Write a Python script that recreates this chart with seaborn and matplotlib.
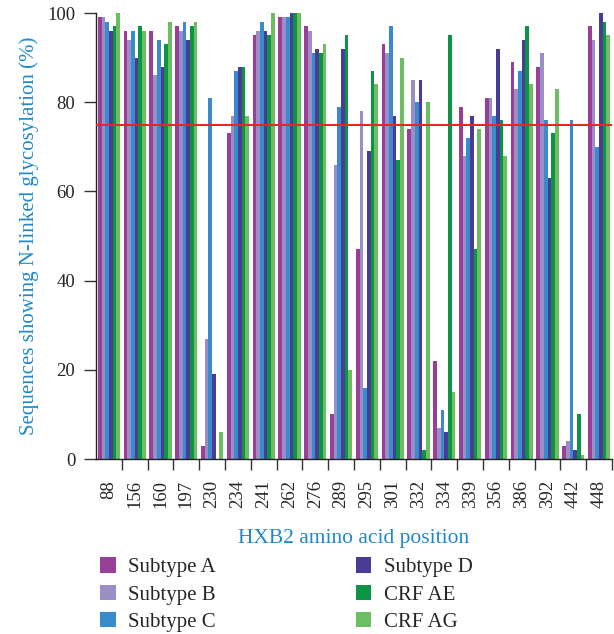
import numpy as np
import pandas as pd
import matplotlib
matplotlib.use('Agg')
import matplotlib.pyplot as plt
import seaborn as sns

positions = ['88', '156', '160', '197', '230', '234', '241', '262', '276', '289',
             '295', '301', '332', '334', '339', '356', '386', '392', '442', '448']

subtypes = ['Subtype A', 'Subtype B', 'Subtype C', 'Subtype D', 'CRF AE', 'CRF AG']

subtype_a = [99, 96, 96, 97, 3, 73, 95, 99, 97, 10, 47, 93, 74, 22, 79, 81, 89, 88, 3, 97]
subtype_b = [99, 94, 86, 96, 27, 77, 96, 99, 96, 66, 78, 91, 85, 7, 68, 81, 83, 91, 4, 94]
subtype_c = [98, 96, 94, 98, 81, 87, 98, 99, 91, 79, 16, 97, 80, 11, 72, 77, 87, 76, 76, 70]
subtype_d = [96, 90, 88, 94, 19, 88, 96, 100, 92, 92, 69, 77, 85, 6, 77, 92, 94, 63, 2, 100]
crf_ae = [97, 97, 93, 97, 0, 88, 95, 100, 91, 95, 87, 67, 2, 95, 47, 76, 97, 73, 10, 98]
crf_ag = [100, 96, 98, 98, 6, 77, 100, 100, 93, 20, 84, 90, 80, 15, 74, 68, 84, 83, 1, 95]

threshold = 75

colors = ['#9A3F97', '#9B8EC7', '#3A8BCB', '#4A3C96', '#0B9444', '#6DBE63']

series = [subtype_a, subtype_b, subtype_c, subtype_d, crf_ae, crf_ag]
rows = []
for name, vals in zip(subtypes, series):
    for pos, v in zip(positions, vals):
        rows.append({'position': pos, 'value': v, 'subtype': name})
df = pd.DataFrame(rows)

sns.set_style('white')
plt.rcParams['font.family'] = ['Liberation Serif', 'DejaVu Serif']

fig = plt.figure(figsize=(6.14, 6.34), dpi=100)
ax = fig.add_axes([96 / 614, (634 - 459) / 634, 516 / 614, 446 / 634])

sns.barplot(data=df, x='position', y='value', hue='subtype', order=positions,
            hue_order=subtypes, palette=dict(zip(subtypes, colors)),
            width=0.86, linewidth=0, saturation=1, ax=ax, legend=True)

ax.axhline(threshold, color='#E8262A', lw=1.5, zorder=5)

ax.set_xlim(-0.5, len(positions) - 0.5)
ax.set_ylim(0, 100)
ax.set_yticks([0, 20, 40, 60, 80, 100])
ax.tick_params(axis='y', length=9, width=1, color='#333333', labelsize=13.5, pad=6, left=True)
ax.set_xticks(range(len(positions)))
ax.set_xticklabels(positions, rotation=90)
ax.tick_params(axis='x', which='major', length=0, labelsize=13.5, pad=15)
ax.set_xticks(np.arange(0.5, len(positions), 1), minor=True)
ax.tick_params(axis='x', which='minor', length=8, width=1, color='#333333', bottom=True)

for s in ['top', 'right']:
    ax.spines[s].set_visible(False)
for s in ['left', 'bottom']:
    ax.spines[s].set_color('#222222')
    ax.spines[s].set_linewidth(1.0)

ax.set_ylabel('Sequences showing N-linked glycosylation (%)', color='#1F88CC', fontsize=15, labelpad=6)
ax.set_xlabel('HXB2 amino acid position', color='#1F88CC', fontsize=15.5, labelpad=15)

handles, labels = ax.get_legend_handles_labels()
ax.legend(handles, labels, ncol=2, loc='upper left', bbox_to_anchor=(92 / 614, 1 - 549 / 634),
          bbox_transform=fig.transFigure, frameon=False, fontsize=15, handlelength=0.75,
          handleheight=0.75, handletextpad=0.6, columnspacing=6.7, labelspacing=0.36,
          borderaxespad=0)

fig.savefig('out.png', dpi=100)
